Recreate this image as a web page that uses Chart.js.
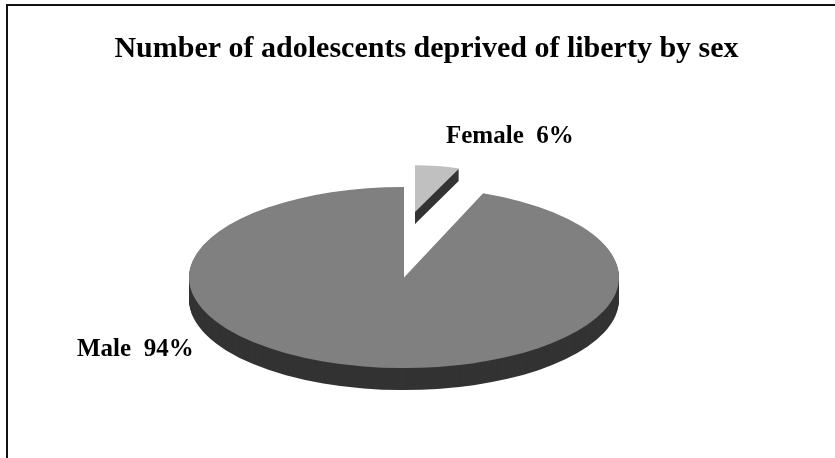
<!DOCTYPE html>
<html>
<head>
<meta charset="utf-8">
<title>Number of adolescents deprived of liberty by sex</title>
<script src="https://cdn.jsdelivr.net/npm/chart.js@4"></script>
<style>
  html, body { margin: 0; padding: 0; background: #fff; overflow: hidden; }
  #frame { position: absolute; left: 6px; top: 4px; right: 0; bottom: 0; border-left: 2px solid #111; border-top: 2px solid #111; }
  #chart { position: absolute; left: 0; top: 0; }
</style>
</head>
<body>
<div id="frame"></div>
<canvas id="chart" width="835" height="458"></canvas>
<script>
const titleText = 'Number of adolescents deprived of liberty by sex';
const categories = ['Female', 'Male'];
const shares = [6, 94];
const sliceColors = ['#c0c0c0', '#808080'];

// The library only does circles, so each slice is drawn squashed with a dark stack under it
const sliceLook = [
  { cx: 415, cy: 212, radius: 120, squash: 0.39, depth: 12 },
  { cx: 404, cy: 277.5, radius: 215, squash: 0.421, depth: 22 }
];
const labelSpots = [
  { x: 446, y: 143 },
  { x: 77, y: 356 }
];
const sideColor = '#333333';
const labelFont = 'bold 25px "Liberation Serif", serif';

const fakePie3d = {
  id: 'fakePie3d',
  beforeDatasetsDraw(chart) {
    const ctx = chart.ctx;
    const arcs = chart.getDatasetMeta(0).data;

    arcs.forEach((arc, i) => {
      const look = sliceLook[i];
      const r = arc.outerRadius;
      const k = look.radius / r;
      const fill = arc.options.backgroundColor;

      const stamp = (dy, color) => {
        ctx.save();
        ctx.translate(look.cx, look.cy + dy);
        ctx.scale(k, k * look.squash);
        ctx.translate(-arc.x, -arc.y);
        arc.options.backgroundColor = color;
        arc.draw(ctx);
        ctx.restore();
      };

      for (let dy = look.depth; dy > 0; dy--) stamp(dy, sideColor);
      stamp(0, fill);
      arc.options.backgroundColor = fill;
    });

    ctx.save();
    ctx.font = labelFont;
    ctx.fillStyle = '#000';
    ctx.textAlign = 'left';
    ctx.textBaseline = 'alphabetic';
    categories.forEach((name, i) => {
      ctx.fillText(name + '\u00a0\u00a0' + shares[i] + '%', labelSpots[i].x, labelSpots[i].y);
    });
    ctx.restore();
    return false;
  }
};

new Chart(document.getElementById('chart'), {
  type: 'pie',
  data: {
    labels: categories,
    datasets: [{
      data: shares,
      backgroundColor: sliceColors,
      borderWidth: 0
    }]
  },
  options: {
    responsive: false,
    devicePixelRatio: 1,
    animation: false,
    rotation: 0,
    layout: { padding: { left: 18 } },
    plugins: {
      legend: { display: false },
      tooltip: { enabled: false },
      title: {
        display: true,
        text: titleText,
        color: '#000',
        font: { family: '"Liberation Serif", serif', size: 30, weight: 'bold' },
        padding: { top: 31, bottom: 10 }
      }
    }
  },
  plugins: [fakePie3d]
});
</script>
</body>
</html>
